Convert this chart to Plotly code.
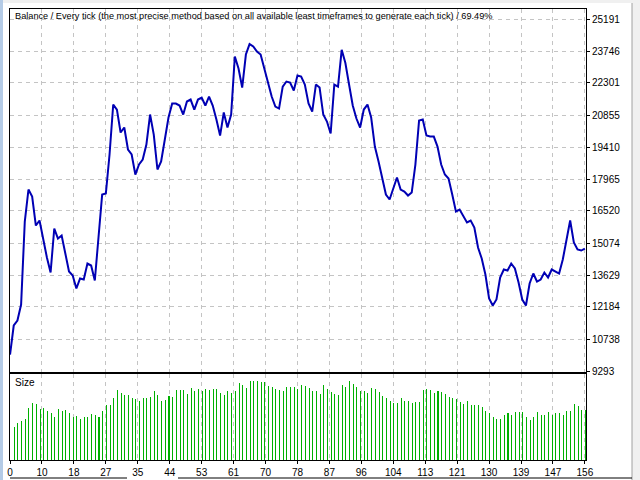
import plotly.graph_objects as go
import numpy as np

# ---- data ----
balance = [10038, 11348, 11574, 12296, 16044, 17490, 17173, 15864, 16090, 15187,
           14419, 13741, 15728, 15277, 15412, 14600, 13787, 13606, 13019, 13470,
           13425, 14148, 14057, 13380, 15232, 17264, 17309, 19070, 21328, 21102,
           20064, 20290, 19296, 19070, 18167, 18619, 18845, 19522, 20877, 19973,
           18393, 18754, 19748, 20741, 21374, 21374, 21283, 20877, 21464, 21554,
           21102, 21554, 21644, 21283, 21690, 21283, 20651, 19928, 20967, 20290,
           20877, 23496, 22954, 22096, 23586, 24060, 23948, 23722, 23586, 22954,
           22367, 21690, 21238, 21148, 22141, 22367, 22322, 21960, 22638, 22593,
           22231, 21374, 21012, 22231, 22096, 20877, 20561, 20019, 22231, 22141,
           23800, 23200, 22231, 21283, 20696, 20290, 21102, 21328, 20741, 19431,
           18754, 18031, 17264, 17038, 17490, 18031, 17490, 17399, 17219, 17354,
           18619, 20606, 20651, 19928, 19883, 19883, 19431, 18619, 18167, 17987,
           17264, 16496, 16587, 16316, 16000, 16090, 15774, 14870, 14373, 13651,
           12567, 12251, 12522, 13516, 13877, 13832, 14148, 13922, 13290, 12522,
           12251, 13245, 13696, 13335, 13425, 13741, 13516, 13877, 13787, 13696,
           14329, 15142, 16090, 15097, 14780, 14735, 14825]

lots = [1.00, 1.14, 1.18, 1.26, 1.59, 1.74, 1.70, 1.56, 1.59, 1.50,
        1.42, 1.32, 1.56, 1.50, 1.53, 1.44, 1.32, 1.35, 1.26, 1.32,
        1.32, 1.41, 1.38, 1.32, 1.50, 1.68, 1.68, 1.89, 2.13, 2.04,
        1.98, 1.98, 1.89, 1.86, 1.80, 1.89, 1.89, 1.92, 2.10, 1.96,
        1.80, 1.83, 1.95, 1.92, 2.13, 2.13, 2.12, 2.00, 2.19, 2.10,
        2.16, 2.10, 2.16, 2.13, 2.16, 2.16, 2.04, 1.98, 2.10, 2.04,
        2.10, 2.34, 2.28, 2.19, 2.40, 2.40, 2.40, 2.37, 2.37, 2.25,
        2.22, 2.16, 2.13, 2.10, 2.22, 2.22, 2.22, 2.16, 2.28, 2.25,
        2.19, 2.10, 2.10, 2.00,
        2.28, 2.16, 2.07, 2.01, 1.98, 2.28,
        2.22, 2.40, 2.31, 2.22, 2.10, 2.10, 2.04, 2.19, 2.16, 2.07,
        1.95, 1.89, 1.80, 1.74, 1.74, 1.89, 1.80, 1.80, 1.74, 1.77,
        1.77, 2.13, 2.16, 2.13, 2.04, 2.10, 2.07, 2.01, 1.92, 1.89,
        1.86, 1.77, 1.71, 1.80, 1.68, 1.68, 1.68, 1.62, 1.50, 1.44,
        1.32, 1.26, 1.26, 1.38, 1.44, 1.38, 1.47, 1.47, 1.47, 1.32,
        1.23, 1.32, 1.47, 1.38, 1.38, 1.47, 1.38, 1.44, 1.44, 1.38,
        1.50, 1.50, 1.71, 1.65, 1.53, 1.53]

trade_idx = list(range(len(balance)))
size_idx = list(range(1, len(lots) + 1))

x_tick_labels = ['0', '10', '18', '27', '35', '44', '53', '61', '70', '78',
                 '87', '96', '104', '113', '121', '130', '139', '147', '156']
y_tick_vals = [9293, 10738, 12184, 13629, 15074, 16520, 17965, 19410,
               20855, 22301, 23746, 25191]
y_tick_labels = ['9293', '10738', '12184', '13629', '15074', '16520', '17965',
                 '19410', '20855', '22301', '23746', '25191']
title_text = ("Balance / Every tick (the most precise method based on all available "
              "least timeframes to generate each tick) / 69.49%")

W, H = 640, 480
def px(x): return x / W
def py(y): return 1 - y / H

x_tick_pos = list(np.linspace(0, len(balance) - 1, len(x_tick_labels)))
x_range = [-0.15, 156.3]
xdom = [px(9.5), px(586)]

fig = go.Figure()
fig.add_trace(go.Scatter(x=trade_idx, y=balance, mode='lines',
                         line=dict(color='#0000B4', width=2),
                         xaxis='x', yaxis='y', hoverinfo='skip'))
fig.add_trace(go.Bar(x=size_idx, y=lots, width=0.01,
                     marker=dict(color='#00B000', line_width=0),
                     xaxis='x2', yaxis='y2', hoverinfo='skip'))

grid = dict(showgrid=True, gridcolor='#c4c4c4', griddash='4px,4px', gridwidth=1)
frame = dict(showline=True, mirror=True, linecolor='black', linewidth=1,
             zeroline=False, automargin=False)
tick_font = dict(family='Liberation Sans', size=10, color='black')

fig.update_layout(
    width=W, height=H, margin=dict(l=0, r=0, t=0, b=0, pad=0, autoexpand=False),
    paper_bgcolor='white', plot_bgcolor='white', showlegend=False,
    font=dict(family='Liberation Sans', size=10, color='black'),
    bargap=0, hovermode=False,
    xaxis=dict(domain=xdom, range=x_range, anchor='y', tickvals=x_tick_pos,
               showticklabels=False, ticks='', **grid, **frame),
    yaxis=dict(domain=[py(372), py(9)], range=[9248, 25643], anchor='x', side='right',
               tickvals=y_tick_vals, ticktext=y_tick_labels, ticks='outside', ticklen=3,
               tickcolor='black', tickfont=tick_font, **grid, **frame),
    xaxis2=dict(domain=xdom, range=x_range, anchor='y2', tickvals=x_tick_pos,
                ticktext=x_tick_labels, ticks='outside', ticklen=3, tickcolor='black',
                tickfont=tick_font, **grid, **frame),
    yaxis2=dict(domain=[py(460), py(373.5)], range=[0, 2.6], anchor='x2',
                showticklabels=False, showgrid=False, ticks='', **frame),
)

fig.add_annotation(text=title_text, x=px(13), y=py(16), xref='paper', yref='paper',
                   xanchor='left', yanchor='middle', showarrow=False,
                   font=dict(family='Liberation Sans', size=9.2, color='black'))
fig.add_annotation(text='Size', x=px(13), y=py(382), xref='paper', yref='paper',
                   xanchor='left', yanchor='middle', showarrow=False,
                   font=dict(family='Liberation Sans', size=10, color='black'))

# window decorations
shapes = [
    dict(type='rect', xref='paper', yref='paper', x0=0, x1=px(3), y0=0, y1=1,
         fillcolor='#b4cbe6', line_width=0, layer='below'),
    dict(type='rect', xref='paper', yref='paper', x0=px(3), x1=1, y0=py(3), y1=1,
         fillcolor='#f0f0f0', line_width=0, layer='below'),
    dict(type='rect', xref='paper', yref='paper', x0=px(632), x1=1, y0=0, y1=py(3),
         fillcolor='#f0f0f0', line_width=0, layer='below'),
    dict(type='line', xref='paper', yref='paper', x0=px(632), x1=px(632), y0=0, y1=py(3),
         line=dict(color='#a0a0a0', width=1)),
    dict(type='line', xref='paper', yref='paper', x0=px(10), x1=px(127), y0=py(478), y1=py(478),
         line=dict(color='black', width=1)),
    dict(type='line', xref='paper', yref='paper', x0=px(178), x1=px(632), y0=py(478), y1=py(478),
         line=dict(color='black', width=1)),
]
fig.update_layout(shapes=shapes)

# the page's default body margin would offset the 640x480 figure inside the window
fig.write_html("out.html", config={'displayModeBar': False},
               post_script="document.body.style.margin='0';document.body.style.overflow='hidden';")
